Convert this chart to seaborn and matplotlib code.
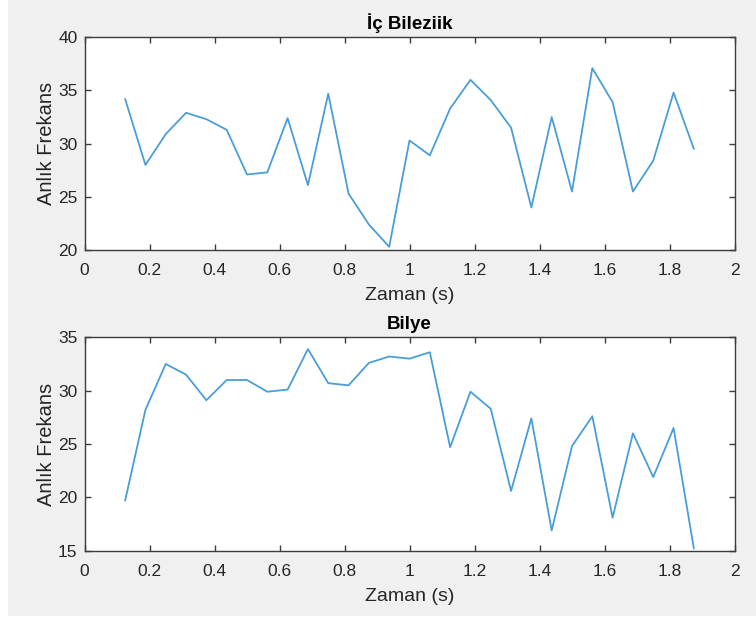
import numpy as np
import pandas as pd
import matplotlib
matplotlib.use("Agg")
import matplotlib.pyplot as plt
from matplotlib.patches import Rectangle
import seaborn as sns

# Sampling instants (s)
time_s = [0.125, 0.1875, 0.25, 0.3125, 0.375, 0.4375, 0.5, 0.5625, 0.625, 0.6875,
          0.75, 0.8125, 0.875, 0.9375, 1.0, 1.0625, 1.125, 1.1875, 1.25, 1.3125,
          1.375, 1.4375, 1.5, 1.5625, 1.625, 1.6875, 1.75, 1.8125, 1.875]

# Instantaneous frequency – inner race fault
inner_race = [34.2, 28.0, 30.9, 32.9, 32.3, 31.3, 27.1, 27.3, 32.4, 26.1,
              34.7, 25.3, 22.4, 20.3, 30.3, 28.9, 33.3, 36.0, 34.1, 31.5,
              24.0, 32.5, 25.5, 37.1, 33.9, 25.5, 28.4, 34.8, 29.5]

# Instantaneous frequency – ball fault
ball = [19.7, 28.2, 32.5, 31.5, 29.1, 31.0, 31.0, 29.9, 30.1, 33.9,
        30.7, 30.5, 32.6, 33.2, 33.0, 33.6, 24.7, 29.9, 28.3, 20.6,
        27.4, 16.9, 24.8, 27.6, 18.1, 26.0, 21.9, 26.5, 15.2]

titles = ["İç Bileziik", "Bilye"]
y_limits = [(20, 40), (15, 35)]
x_ticks = [0, 0.2, 0.4, 0.6, 0.8, 1.0, 1.2, 1.4, 1.6, 1.8, 2.0]
x_tick_labels = ["0", "0.2", "0.4", "0.6", "0.8", "1", "1.2", "1.4", "1.6", "1.8", "2"]

sns.set_theme(style="white")
plt.rcParams["font.family"] = ["Liberation Sans", "DejaVu Sans"]

BG = "#f0f0f0"
TXT = "#262626"
AX = "#3c3c3c"
LINE = "#4a9ed8"

fig = plt.figure(figsize=(7.56, 6.19), dpi=100, facecolor=BG)
# thin white margins along the left and bottom borders
fig.patches.append(Rectangle((0, 0), 8 / 756, 1, transform=fig.transFigure,
                             facecolor="white", edgecolor="none", zorder=-5))
fig.patches.append(Rectangle((0, 0), 1, 3 / 619, transform=fig.transFigure,
                             facecolor="white", edgecolor="none", zorder=-5))

left = 84.5 / 756
width = 650 / 756
axes_boxes = [
    [left, 1 - 250.0 / 619, width, 212.7 / 619],
    [left, 1 - 550.7 / 619, width, 213.4 / 619],
]

series = [inner_race, ball]

for box, values, title, ylim in zip(axes_boxes, series, titles, y_limits):
    ax = fig.add_axes(box)
    ax.set_facecolor("white")
    df = pd.DataFrame({"Zaman (s)": time_s, "Anlık Frekans": values})
    sns.lineplot(data=df, x="Zaman (s)", y="Anlık Frekans", ax=ax,
                 color=LINE, linewidth=1.3)
    ax.set_xlim(0, 2)
    ax.set_ylim(*ylim)
    ax.set_xticks(x_ticks)
    ax.set_xticklabels(x_tick_labels)
    ax.set_yticks(np.arange(ylim[0], ylim[1] + 0.1, 5))
    ax.tick_params(axis="both", which="both", direction="in", length=4.5,
                   width=1.0, color=AX, labelcolor=TXT, labelsize=12.5,
                   top=True, right=True, bottom=True, left=True)
    ax.tick_params(axis="x", pad=9.5)
    ax.tick_params(axis="y", pad=5)
    for sp in ax.spines.values():
        sp.set_visible(True)
        sp.set_color(AX)
        sp.set_linewidth(1.0)
    ax.set_xlabel("Zaman (s)", fontsize=14, color=TXT, labelpad=6.5)
    ax.set_ylabel("Anlık Frekans", fontsize=14.5, color=TXT, labelpad=1.5)
    ax.set_title(title, fontsize=13.5, fontweight="bold", color="black", pad=6)
    ax.grid(False)

fig.savefig("out.png", dpi=100, facecolor=fig.get_facecolor())
